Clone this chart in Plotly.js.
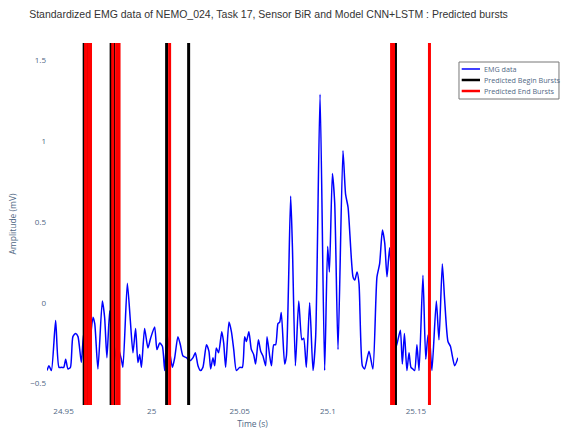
<!DOCTYPE html>
<html>
<head>
<meta charset="utf-8">
<script src="https://cdn.plot.ly/plotly-3.0.1.min.js"></script>
<style>html,body{margin:0;padding:0;background:#fff;}#chart{width:561px;height:434px;}</style>
</head>
<body>
<div id="chart"></div>
<script>
// EMG signal (time in s, amplitude in mV)
const time = [
24.9406,24.9417,24.9431,24.9455,24.9474,24.9488,24.9501,24.9512,24.9525,24.9539,
24.9553,24.9569,24.9582,24.9601,24.9614,24.9634,24.9667,24.9677,24.9695,24.9720,
24.9733,24.9746,24.9762,24.9784,24.9804,24.9828,24.9837,24.9862,24.9879,24.9894,
24.9909,24.9922,24.9932,24.9942,24.9960,24.9979,24.9994,25.0017,25.0030,25.0046,
25.0061,25.0074,25.0087,25.0106,25.0118,25.0131,25.0149,25.0163,25.0178,25.0197,
25.0216,25.0235,25.0248,25.0263,25.0277,25.0291,25.0311,25.0325,25.0335,25.0348,
25.0358,25.0367,25.0380,25.0398,25.0409,25.0420,25.0439,25.0453,25.0466,25.0481,
25.0500,25.0515,25.0528,25.0538,25.0552,25.0566,25.0579,25.0590,25.0606,25.0619,
25.0632,25.0647,25.0655,25.0670,25.0680,25.0693,25.0704,25.0717,25.0727,25.0736,
25.0755,25.0765,25.0789,25.0799,25.0816,25.0835,25.0853,25.0863,25.0878,25.0897,
25.0916,25.0931,25.0956,25.0982,25.0999,25.1009,25.1026,25.1039,25.1058,25.1086,
25.1101,25.1115,25.1143,25.1153,25.1166,25.1177,25.1196,25.1209,25.1234,25.1256,
25.1279,25.1294,25.1310,25.1323,25.1336,25.1351,25.1385,25.1398,25.1412,25.1423,
25.1435,25.1449,25.1461,25.1472,25.1483,25.1493,25.1506,25.1518,25.1540,25.1556,
25.1569,25.1578,25.1591,25.1616,25.1631,25.1650,25.1663,25.1682,25.1696,25.1720,
25.1739
];
const amplitude = [
-0.42,-0.39,-0.42,-0.11,-0.40,-0.40,-0.40,-0.35,-0.41,-0.40,
-0.21,-0.19,-0.21,-0.37,-0.19,-0.40,-0.09,-0.13,-0.41,0.01,
-0.09,-0.34,-0.05,-0.39,-0.26,-0.35,-0.40,0.12,-0.11,-0.31,
-0.16,-0.37,-0.32,-0.40,-0.16,-0.28,-0.22,-0.15,-0.29,-0.25,
-0.27,-0.42,-0.19,-0.33,-0.40,-0.34,-0.21,-0.26,-0.33,-0.34,
-0.36,-0.34,-0.31,-0.39,-0.42,-0.40,-0.26,-0.30,-0.41,-0.34,
-0.39,-0.28,-0.31,-0.18,-0.25,-0.40,-0.12,-0.18,-0.29,-0.42,
-0.40,-0.40,-0.21,-0.24,-0.18,-0.29,-0.32,-0.38,-0.23,-0.30,
-0.33,-0.39,-0.21,-0.33,-0.39,-0.26,-0.26,-0.13,-0.12,-0.06,
-0.38,-0.33,0.66,0.35,-0.39,0.01,-0.23,-0.22,-0.40,0.00,
-0.42,-0.21,1.29,-0.42,0.35,0.19,0.80,0.62,-0.29,0.94,
0.67,0.59,0.16,0.14,0.19,0.12,-0.39,-0.41,-0.30,-0.41,
0.16,0.24,0.45,0.37,0.16,0.34,-0.28,-0.23,-0.17,-0.38,
-0.19,-0.42,-0.31,-0.40,-0.41,-0.42,-0.26,-0.42,0.17,-0.35,
-0.20,-0.23,-0.42,0.01,-0.23,0.24,0.02,-0.24,-0.27,-0.39,
-0.34
];
// Predicted burst onsets / offsets (s)
const beginBursts = [24.9617,24.9631,24.9770,24.9784,25.0085,25.0210,25.1384];
const endBursts = [24.9625,24.9642,24.9653,24.9779,24.9801,24.9815,25.0102,25.1362,25.1373,25.1577];
const yRange = [-0.633, 1.607];
const xRange = [24.9406, 25.1739];
const seriesNames = ['EMG data', 'Predicted Begin Bursts', 'Predicted End Bursts'];
const seriesColors = ['blue', 'black', 'red'];

function vlines(ts){
  const x=[], y=[];
  ts.forEach(t=>{ x.push(t,t,null); y.push(yRange[0],yRange[1],null); });
  return {x, y};
}
const b = vlines(beginBursts), e = vlines(endBursts);

const data = [
  {x: time, y: amplitude, mode:'lines', name:seriesNames[0],
   line:{color:seriesColors[0], width:1.5, shape:'spline', smoothing:0.6}},
  {x: b.x, y: b.y, mode:'lines', name:seriesNames[1],
   line:{color:seriesColors[1], width:3}},
  {x: e.x, y: e.y, mode:'lines', name:seriesNames[2],
   line:{color:seriesColors[2], width:3}}
];

// compact legend drawn with shapes + annotations (paper coords)
const legBox = {x0:1.0024, x1:1.2457, y0:0.8453, y1:0.9475};
const legRows = [0.9282, 0.8978, 0.8674];
const shapes = [{type:'rect', xref:'paper', yref:'paper', x0:legBox.x0, x1:legBox.x1, y0:legBox.y0, y1:legBox.y1,
                 line:{color:'#777', width:1}, fillcolor:'#fff', layer:'above'}];
const annotations = [];
legRows.forEach((yy,i)=>{
  shapes.push({type:'line', xref:'paper', yref:'paper', x0:1.0090, x1:1.0535, y0:yy, y1:yy,
               line:{color:seriesColors[i], width: i===0 ? 1.5 : 2.5}, layer:'above'});
  annotations.push({xref:'paper', yref:'paper', x:1.0584, y:yy, xanchor:'left', yanchor:'middle',
               text:seriesNames[i], showarrow:false,
               font:{family:'"Open Sans", sans-serif', size:7.2, color:'#506784'}});
});

const tickFont = {family:'"Open Sans", sans-serif', size:8, color:'#506784'};
const layout = {
  width:561, height:434,
  margin:{l:47, r:103, t:43, b:29, pad:0, autoexpand:false},
  paper_bgcolor:'#fff', plot_bgcolor:'#fff',
  title:{text:'Standardized EMG data of NEMO_024, Task 17, Sensor BiR and Model CNN+LSTM : Predicted bursts',
         font:{family:'"Liberation Sans", Arial, sans-serif', size:10.5, color:'#333'},
         x:0.4786, xanchor:'center', xref:'container', y:0.968, yref:'container', yanchor:'middle'},
  xaxis:{range:xRange, showgrid:false, zeroline:false, showline:false, ticks:'',
         dtick:0.05, tick0:0, tickfont:tickFont,
         title:{text:'Time (s)', font:{family:'"Open Sans", sans-serif', size:8.5, color:'#506784'}, standoff:6}},
  yaxis:{range:yRange, showgrid:false, zeroline:false, showline:false, ticks:'',
         dtick:0.5, tick0:0, tickfont:tickFont,
         title:{text:'Amplitude (mV)', font:{family:'"Open Sans", sans-serif', size:8.5, color:'#506784'}, standoff:12}},
  showlegend:false,
  shapes: shapes,
  annotations: annotations
};
Plotly.newPlot('chart', data, layout, {displayModeBar:false, responsive:false});
</script>
</body>
</html>
